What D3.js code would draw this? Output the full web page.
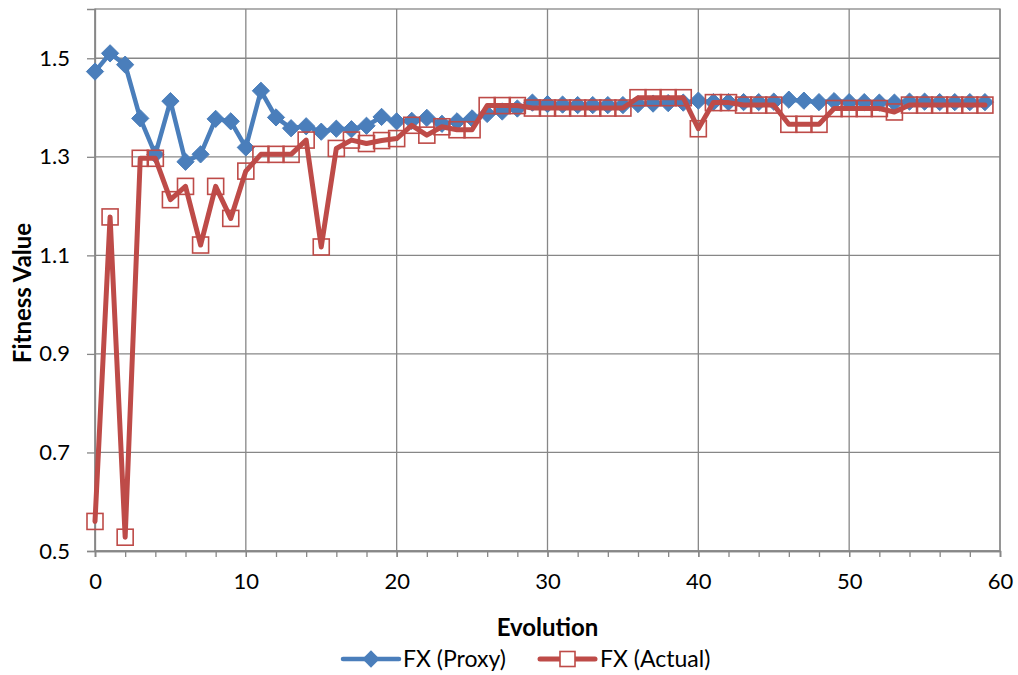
<!DOCTYPE html>
<html>
<head>
<meta charset="utf-8">
<script src="https://cdn.jsdelivr.net/npm/d3@7"></script>
<style>
  html, body { margin: 0; padding: 0; background: #fff; }
  svg { display: block; font-family: Lato, "Open Sans", sans-serif; }
</style>
</head>
<body>
<svg id="chart" width="1018" height="675"></svg>
<script>
// Generation index of each evaluation
const evolution = [0,1,2,3,4,5,6,7,8,9,10,11,12,13,14,15,16,17,18,19,
  20,21,22,23,24,25,26,27,28,29,30,31,32,33,34,35,36,37,38,39,
  40,41,42,43,44,45,46,47,48,49,50,51,52,53,54,55,56,57,58,59];

// Fitness estimated by the proxy model
const fxProxy = [1.473,1.510,1.487,1.378,1.305,1.413,1.290,1.305,1.377,1.372,
  1.319,1.434,1.380,1.358,1.362,1.351,1.357,1.356,1.363,1.381,
  1.372,1.373,1.379,1.367,1.372,1.378,1.387,1.392,1.398,1.410,
  1.407,1.406,1.405,1.405,1.405,1.405,1.407,1.408,1.409,1.410,
  1.414,1.411,1.411,1.411,1.411,1.412,1.416,1.414,1.411,1.413,
  1.411,1.411,1.410,1.410,1.412,1.412,1.411,1.411,1.411,1.411];

// Fitness actually measured
const fxActual = [0.560,1.178,0.528,1.297,1.297,1.213,1.240,1.121,1.240,1.175,
  1.271,1.305,1.305,1.305,1.334,1.117,1.317,1.334,1.327,1.333,
  1.337,1.364,1.344,1.361,1.355,1.355,1.404,1.404,1.404,1.399,
  1.399,1.399,1.399,1.399,1.399,1.399,1.420,1.420,1.420,1.420,
  1.357,1.410,1.410,1.405,1.405,1.405,1.366,1.366,1.366,1.398,
  1.398,1.398,1.398,1.391,1.405,1.405,1.405,1.405,1.405,1.405];

const xTicks = [0,10,20,30,40,50,60];
const xMinorTicks = [0,2,4,6,8,10,12,14,16,18,20,22,24,26,28,30,32,34,36,38,40,42,44,46,48,50,52,54,56,58,60];
const yTicks = [0.5,0.7,0.9,1.1,1.3,1.5];
const yDomain = [0.5, 1.6];

const seriesNames = ["FX (Proxy)", "FX (Actual)"];
const blue = "#4a7ebb";
const red = "#be4b48";
const gridColor = "#878787";

const svg = d3.select("#chart");
const plot = { left: 95, right: 1000, top: 9, bottom: 551 };

const x = d3.scaleLinear().domain([0, 60]).range([plot.left, plot.right]);
const y = d3.scaleLinear().domain(yDomain).range([plot.bottom, plot.top]);

// Gridlines
const grid = svg.append("g");
grid.selectAll(".gx").data(xTicks).join("line")
  .attr("x1", d => x(d)).attr("x2", d => x(d))
  .attr("y1", plot.top).attr("y2", plot.bottom)
  .attr("stroke", gridColor).attr("stroke-width", 1.3);
grid.selectAll(".gy").data(yTicks).join("line")
  .attr("x1", plot.left).attr("x2", plot.right)
  .attr("y1", d => y(d)).attr("y2", d => y(d))
  .attr("stroke", gridColor).attr("stroke-width", 1.3);
grid.append("rect")
  .attr("x", plot.left).attr("y", plot.top)
  .attr("width", plot.right - plot.left).attr("height", plot.bottom - plot.top)
  .attr("fill", "none").attr("stroke", gridColor).attr("stroke-width", 1.3);

// Axes
const xAxisMinor = d3.axisBottom(x).tickValues(xMinorTicks).tickSize(6).tickFormat("");
const gxm = svg.append("g").attr("transform", `translate(0,${plot.bottom})`).call(xAxisMinor);
const xAxis = d3.axisBottom(x).tickValues(xTicks).tickSize(6).tickPadding(16).tickFormat(d3.format("d"));
const gx = svg.append("g").attr("transform", `translate(0,${plot.bottom})`).call(xAxis);
const yAxis = d3.axisLeft(y).tickValues(yTicks).tickSize(8).tickPadding(17).tickFormat(d3.format(".1f"));
const gy = svg.append("g").attr("transform", `translate(${plot.left},0)`).call(yAxis);

[gx, gy, gxm].forEach(g => {
  g.select(".domain").attr("stroke", gridColor).attr("stroke-width", 1.3);
  g.selectAll(".tick line").attr("stroke", gridColor).attr("stroke-width", 1.3);
  g.selectAll(".tick text").attr("fill", "#000").attr("font-size", 22)
    .attr("font-family", "Lato, sans-serif");
});

// Axis titles
svg.append("text")
  .attr("x", (plot.left + plot.right) / 2).attr("y", 636)
  .attr("text-anchor", "middle").attr("font-size", 24).attr("font-weight", "bold")
  .text("Evolution");
svg.append("text")
  .attr("transform", `translate(31,293) rotate(-90)`)
  .attr("text-anchor", "middle").attr("font-size", 24).attr("font-weight", "bold")
  .text("Fitness Value");

// Series
const line = d3.line().x((d, i) => x(evolution[i])).y(d => y(d));

const diamond = d3.symbol().type(d3.symbolDiamond2).size(190);

const proxyG = svg.append("g");
proxyG.append("path").datum(fxProxy)
  .attr("d", line).attr("fill", "none").attr("stroke", blue)
  .attr("stroke-width", 4.5).attr("stroke-linejoin", "round").attr("stroke-linecap", "round");
proxyG.selectAll("path.m").data(fxProxy).join("path").attr("class", "m")
  .attr("transform", (d, i) => `translate(${x(evolution[i])},${y(d)})`)
  .attr("d", diamond).attr("fill", blue).attr("stroke", blue).attr("stroke-width", 1);

const actualG = svg.append("g");
actualG.append("path").datum(fxActual)
  .attr("d", line).attr("fill", "none").attr("stroke", red)
  .attr("stroke-width", 5).attr("stroke-linejoin", "round").attr("stroke-linecap", "round");
const box = 16;
actualG.selectAll("rect.m").data(fxActual).join("rect").attr("class", "m")
  .attr("x", (d, i) => x(evolution[i]) - box / 2)
  .attr("y", d => y(d) - box / 2)
  .attr("width", box).attr("height", box)
  .attr("fill", "none").attr("stroke", red).attr("stroke-width", 1.6);

// Legend
const legend = svg.append("g").attr("transform", "translate(0,659)");
const lg1 = legend.append("g");
lg1.append("line").attr("x1", 343).attr("x2", 399).attr("y1", 0).attr("y2", 0)
  .attr("stroke", blue).attr("stroke-width", 4.5).attr("stroke-linecap", "round");
lg1.append("path").attr("transform", "translate(371,0)").attr("d", diamond).attr("fill", blue);
lg1.append("text").attr("x", 403).attr("y", 0).attr("dy", "0.35em")
  .attr("font-size", 23).text(seriesNames[0]);

const lg2 = legend.append("g");
lg2.append("line").attr("x1", 540).attr("x2", 595).attr("y1", 0).attr("y2", 0)
  .attr("stroke", red).attr("stroke-width", 5).attr("stroke-linecap", "round");
lg2.append("rect").attr("x", 567.5 - 7.5).attr("y", -7.5).attr("width", 15).attr("height", 15)
  .attr("fill", "#fff").attr("stroke", red).attr("stroke-width", 1.6);
lg2.append("text").attr("x", 600).attr("y", 0).attr("dy", "0.35em")
  .attr("font-size", 23).text(seriesNames[1]);
</script>
</body>
</html>
